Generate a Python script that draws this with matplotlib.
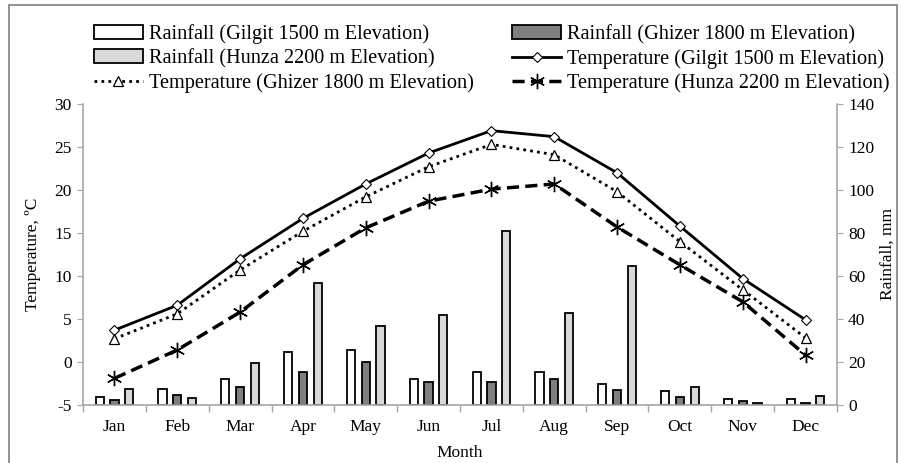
import numpy as np
import matplotlib
matplotlib.use("Agg")
import matplotlib.pyplot as plt
from matplotlib.patches import Rectangle

plt.rcParams["font.family"] = ["Liberation Serif", "DejaVu Serif"]
plt.rcParams["axes.unicode_minus"] = False

months = ["Jan", "Feb", "Mar", "Apr", "May", "Jun",
          "Jul", "Aug", "Sep", "Oct", "Nov", "Dec"]

# monthly rainfall, mm
rain_gilgit = [3.6, 7.4, 12.2, 24.5, 25.6, 12.0, 15.3, 15.3, 9.6, 6.6, 2.8, 2.8]
rain_ghizer = [2.5, 4.5, 8.4, 15.3, 20.1, 10.5, 10.7, 12.2, 6.8, 3.7, 1.9, 0.9]
rain_hunza = [7.6, 3.3, 19.7, 56.6, 36.9, 41.7, 81.1, 42.9, 64.7, 8.4, 0.9, 4.3]

# mean monthly temperature, deg C
temp_gilgit = [3.7, 6.6, 12.0, 16.7, 20.7, 24.3, 26.9, 26.2, 22.0, 15.8, 9.7, 4.9]
temp_ghizer = [2.7, 5.6, 10.7, 15.2, 19.2, 22.7, 25.3, 24.1, 19.8, 14.0, 8.4, 2.8]
temp_hunza = [-1.9, 1.4, 5.8, 11.3, 15.6, 18.7, 20.1, 20.7, 15.7, 11.3, 7.0, 0.8]

grey_axis = "#a6a6a6"
x = np.arange(len(months))

fig = plt.figure(figsize=(9.01, 4.63), dpi=100)
ax = fig.add_axes([83 / 901, 1 - 405 / 463, (837 - 83) / 901, (405 - 104) / 463])
ax2 = ax.twinx()

# rainfall bars on the right axis
bw = 0.13
off = 0.235
b1 = ax2.bar(x - off, rain_gilgit, bw, color="white", edgecolor="black", linewidth=1.3,
             label="Rainfall (Gilgit 1500 m Elevation)")
b2 = ax2.bar(x, rain_ghizer, bw, color="#7f7f7f", edgecolor="black", linewidth=1.3,
             label="Rainfall (Ghizer 1800 m Elevation)")
b3 = ax2.bar(x + off, rain_hunza, bw, color="#d9d9d9", edgecolor="black", linewidth=1.3,
             label="Rainfall (Hunza 2200 m Elevation)")

# temperature lines on the left axis, drawn above the bars
l1, = ax.plot(x, temp_gilgit, color="black", lw=2, marker="D", ms=5,
              mfc="white", mec="black", mew=0.8,
              label="Temperature (Gilgit 1500 m Elevation)")
l2, = ax.plot(x, temp_ghizer, color="black", lw=2, ls=(0, (1, 1.5)), marker="^", ms=7,
              mfc="white", mec="black", mew=0.9,
              label="Temperature (Ghizer 1800 m Elevation)")
l3, = ax.plot(x, temp_hunza, color="black", lw=2.5, ls=(0, (3.5, 1.8)), marker=(6, 2, 0),
              ms=11, mec="black", mew=1.0,
              label="Temperature (Hunza 2200 m Elevation)")
ax.set_zorder(ax2.get_zorder() + 1)
ax.patch.set_visible(False)

ax.set_xlim(-0.5, 11.5)
ax.set_ylim(-5, 30)
ax.set_yticks(np.arange(-5, 31, 5))
ax2.set_ylim(0, 140)
ax2.set_yticks(np.arange(0, 141, 20))

ax.set_xticks(x)
ax.set_xticklabels(months)
ax.set_xticks(np.arange(-0.5, 12, 1), minor=True)
ax.tick_params(axis="x", which="major", length=0, pad=10, labelsize=12.5)
ax.tick_params(axis="x", which="minor", length=5, color=grey_axis, width=1)
ax.tick_params(axis="y", length=4, color=grey_axis, labelsize=12.5, pad=4)
ax2.tick_params(axis="y", length=4, color=grey_axis, labelsize=12.5, pad=4)

for a in (ax, ax2):
    for side in ("left", "right", "bottom"):
        a.spines[side].set_color(grey_axis)
        a.spines[side].set_linewidth(1.2)
    a.spines["top"].set_visible(False)
ax.spines["right"].set_visible(False)
ax2.spines["left"].set_visible(False)
ax2.spines["bottom"].set_visible(False)

ax.set_xlabel("Month", fontsize=12.5, labelpad=7)
ax.set_ylabel("Temperature, ºC", fontsize=12.5, labelpad=10)
ax2.set_ylabel("Rainfall, mm", fontsize=12.5, labelpad=4)

# legend in two columns above the plot
handles = [b1, b3, l2, b2, l1, l3]
fig.legend(handles, [h.get_label() for h in handles], ncol=2,
           loc="upper left", bbox_to_anchor=(86 / 901, 1 - 16 / 463),
           frameon=False, fontsize=14.6, handlelength=2.4, handletextpad=0.3,
           columnspacing=1.9, labelspacing=0.24, borderaxespad=0)

fig.patches.append(Rectangle((9 / 901, -0.05), (897 - 9) / 901, 1.05 - 5 / 463,
                             transform=fig.transFigure, fill=False,
                             edgecolor="#7f7f7f", linewidth=1.2))

fig.savefig("out.png", dpi=100)
